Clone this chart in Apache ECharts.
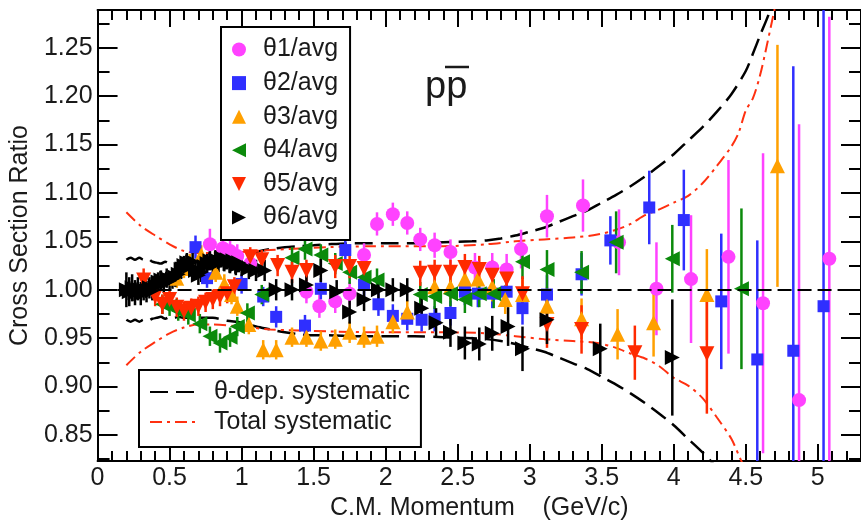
<!DOCTYPE html>
<html>
<head>
<meta charset="utf-8">
<script src="https://cdn.jsdelivr.net/npm/echarts@6/dist/echarts.min.js"></script>
<style>
html, body { margin: 0; padding: 0; background: #fff; }
#chart { width: 861px; height: 526px; }
</style>
</head>
<body>
<div id="chart"></div>
<script>
// ---- axis ticks / labels ----
const xMajorTicks = [0, 0.5, 1, 1.5, 2, 2.5, 3, 3.5, 4, 4.5, 5];
const yMajorTicks = [0.85, 0.90, 0.95, 1.00, 1.05, 1.10, 1.15, 1.20, 1.25];
const xName = 'C.M. Momentum    (GeV/c)';
const yName = 'Cross Section Ratio';

// ---- θ1/avg (magenta circles) ----
const t1X   = [0.78, 0.87, 0.92, 0.97, 1.06, 1.45, 1.54, 1.65, 1.75, 1.85, 1.94, 2.05, 2.15, 2.24, 2.34, 2.45, 2.62, 2.74, 2.84, 2.94, 3.12, 3.37, 3.62, 3.88, 4.12, 4.38, 4.62, 4.87, 5.08];
const t1Y   = [1.047, 1.043, 1.040, 1.035, 1.027, 0.998, 0.983, 0.988, 0.996, 1.036, 1.068, 1.078, 1.069, 1.052, 1.046, 1.039, 1.023, 1.023, 1.021, 1.042, 1.076, 1.087, 1.049, 1.001, 1.011, 1.034, 0.986, 0.886, 1.032];
const t1Err = [0.016, 0.013, 0.012, 0.012, 0.012, 0.012, 0.012, 0.012, 0.012, 0.012, 0.012, 0.012, 0.012, 0.012, 0.013, 0.013, 0.015, 0.015, 0.016, 0.020, 0.022, 0.027, 0.034, 0.048, 0.066, 0.100, 0.155, 0.285, 0.250];

// ---- θ2/avg (blue squares) ----
const t2X   = [0.68, 0.76, 1.00, 1.15, 1.24, 1.44, 1.55, 1.72, 1.85, 1.95, 2.05, 2.15, 2.25, 2.34, 2.45, 2.55, 2.64, 2.74, 2.84, 2.95, 3.12, 3.36, 3.56, 3.83, 4.07, 4.33, 4.58, 4.83, 5.04];
const t2Y   = [1.044, 1.012, 1.006, 0.993, 0.972, 0.963, 1.001, 1.041, 1.005, 0.985, 0.973, 0.970, 0.969, 0.970, 0.976, 0.998, 0.996, 0.996, 0.998, 0.981, 0.995, 1.016, 1.051, 1.085, 1.072, 0.988, 0.928, 0.937, 0.983];
const t2Err = [0.012, 0.010, 0.010, 0.010, 0.011, 0.011, 0.011, 0.012, 0.012, 0.012, 0.012, 0.012, 0.012, 0.013, 0.013, 0.014, 0.014, 0.015, 0.015, 0.017, 0.020, 0.022, 0.025, 0.038, 0.052, 0.070, 0.123, 0.294, 0.400];

// ---- θ3/avg (orange up triangles) ----
const t3X   = [0.55, 0.60, 0.64, 0.72, 0.82, 0.88, 0.93, 0.97, 1.05, 1.15, 1.24, 1.35, 1.45, 1.55, 1.65, 1.75, 1.85, 1.94, 2.05, 2.15, 2.34, 2.45, 2.55, 2.64, 2.74, 2.83, 2.95, 3.12, 3.36, 3.61, 3.86, 4.23, 4.72];
const t3Y   = [1.012, 1.022, 1.027, 1.036, 1.018, 1.006, 0.995, 0.983, 0.964, 0.938, 0.938, 0.951, 0.951, 0.947, 0.949, 0.956, 0.951, 0.952, 0.967, 0.977, 1.003, 1.003, 1.011, 1.011, 1.003, 0.990, 0.995, 0.983, 0.970, 0.954, 0.966, 0.995, 1.128];
const t3Err = [0.010, 0.010, 0.010, 0.010, 0.010, 0.010, 0.010, 0.010, 0.010, 0.010, 0.010, 0.010, 0.010, 0.010, 0.010, 0.011, 0.011, 0.011, 0.012, 0.012, 0.013, 0.013, 0.014, 0.014, 0.015, 0.015, 0.017, 0.020, 0.021, 0.026, 0.035, 0.047, 0.125];

// ---- θ4/avg (green left triangles) ----
const t4X   = [0.45, 0.50, 0.56, 0.63, 0.71, 0.78, 0.85, 0.92, 0.97, 1.04, 1.14, 1.35, 1.44, 1.55, 1.65, 1.75, 1.85, 1.94, 2.24, 2.34, 2.45, 2.55, 2.65, 2.75, 2.95, 3.12, 3.36, 3.60, 3.99, 4.47];
const t4Y   = [0.985, 0.983, 0.978, 0.974, 0.965, 0.952, 0.945, 0.951, 0.962, 0.976, 0.995, 1.033, 1.042, 1.036, 1.027, 1.018, 1.013, 1.010, 0.995, 0.993, 0.996, 0.990, 0.996, 0.996, 1.029, 1.021, 1.018, 1.049, 1.032, 1.001];
const t4Err = [0.010, 0.010, 0.010, 0.010, 0.010, 0.010, 0.010, 0.010, 0.010, 0.010, 0.010, 0.011, 0.011, 0.011, 0.011, 0.012, 0.012, 0.012, 0.013, 0.013, 0.013, 0.014, 0.014, 0.015, 0.018, 0.020, 0.022, 0.032, 0.035, 0.083];

// ---- θ5/avg (red down triangles) ----
const t5X   = [0.32, 0.40, 0.45, 0.50, 0.55, 0.60, 0.65, 0.70, 0.75, 0.80, 0.85, 0.90, 0.95, 1.06, 1.14, 1.25, 1.35, 1.45, 1.65, 1.75, 1.85, 2.24, 2.34, 2.45, 2.55, 2.65, 2.74, 2.84, 2.95, 3.12, 3.36, 3.73, 4.23];
const t5Y   = [1.010, 0.993, 0.985, 0.990, 0.982, 0.978, 0.981, 0.983, 0.987, 0.990, 0.993, 0.996, 1.003, 1.034, 1.031, 1.025, 1.018, 1.020, 1.024, 1.024, 1.022, 1.017, 1.018, 1.018, 1.023, 1.021, 1.015, 1.011, 0.996, 0.964, 0.959, 0.935, 0.934];
const t5Err = [0.012, 0.010, 0.010, 0.010, 0.010, 0.010, 0.010, 0.010, 0.010, 0.010, 0.010, 0.010, 0.010, 0.010, 0.010, 0.011, 0.011, 0.011, 0.012, 0.012, 0.012, 0.013, 0.013, 0.013, 0.014, 0.014, 0.015, 0.015, 0.018, 0.024, 0.025, 0.028, 0.062];

// ---- θ6/avg (black right triangles) ----
const t6X   = [0.20, 0.22, 0.24, 0.26, 0.28, 0.30, 0.32, 0.34, 0.36, 0.38, 0.40, 0.42, 0.44, 0.46, 0.48, 0.50, 0.52, 0.54, 0.56, 0.58, 0.60, 0.62, 0.64, 0.66, 0.68, 0.70, 0.72, 0.74, 0.76, 0.78, 0.80, 0.82, 0.84, 0.86, 0.88, 0.90, 0.92, 0.94, 0.96, 0.98, 1.00,
               1.05, 1.10, 1.16, 1.24, 1.35, 1.45, 1.55, 1.66, 1.75, 1.85, 1.95, 2.05, 2.15, 2.25, 2.35, 2.45, 2.55, 2.65, 2.74, 2.85, 2.95, 3.12, 3.49, 3.99];
const t6Y   = [1.000, 0.998, 1.002, 0.997, 1.001, 0.996, 1.000, 0.998, 1.002, 0.999, 1.004, 1.008, 1.010, 1.007, 1.012, 1.009, 1.011, 1.013, 1.016, 1.021, 1.025, 1.028, 1.024, 1.029, 1.020, 1.015, 1.018, 1.024, 1.027, 1.030, 1.026, 1.031, 1.028, 1.033, 1.029, 1.031, 1.027, 1.030, 1.025, 1.028, 1.024,
               1.022, 1.020, 1.020, 1.000, 1.000, 1.005, 1.020, 0.998, 0.977, 0.990, 1.000, 1.000, 1.000, 0.981, 0.966, 0.956, 0.945, 0.944, 0.955, 0.962, 0.939, 0.969, 0.939, 0.930];
const t6Err = [0.018, 0.015, 0.014, 0.013, 0.012, 0.012, 0.011, 0.011, 0.011, 0.010, 0.010, 0.010, 0.010, 0.010, 0.010, 0.010, 0.010, 0.010, 0.010, 0.010, 0.010, 0.010, 0.010, 0.010, 0.010, 0.010, 0.010, 0.010, 0.010, 0.010, 0.010, 0.010, 0.010, 0.010, 0.010, 0.010, 0.010, 0.010, 0.010, 0.010, 0.010,
               0.011, 0.011, 0.011, 0.011, 0.011, 0.011, 0.012, 0.012, 0.012, 0.012, 0.012, 0.012, 0.012, 0.014, 0.015, 0.015, 0.017, 0.017, 0.018, 0.020, 0.023, 0.025, 0.026, 0.060];

// ---- θ-dependent systematic band (black dashed) ----
const sysUpX = [0.20, 0.23, 0.26, 0.29, 0.32, 0.35, 0.38, 0.41, 0.44, 0.47, 0.50, 0.53, 0.56, 0.60, 0.70, 0.80, 0.90, 1.00, 1.10, 1.20, 1.30, 1.40, 1.50, 1.60, 1.80, 2.00, 2.20, 2.40, 2.60, 2.70, 2.80, 2.90, 3.00, 3.10, 3.20, 3.30, 3.40, 3.50, 3.60, 3.70, 3.80, 3.90, 4.00, 4.10, 4.20, 4.30, 4.40, 4.50, 4.55, 4.60, 4.66, 4.70];
const sysUpY = [1.031, 1.033, 1.031, 1.033, 1.031, 1.032, 1.029, 1.028, 1.027, 1.029, 1.027, 1.028, 1.027, 1.029, 1.029, 1.030, 1.032, 1.035, 1.039, 1.042, 1.044, 1.045, 1.046, 1.047, 1.048, 1.048, 1.048, 1.049, 1.050, 1.051, 1.053, 1.056, 1.060, 1.064, 1.070, 1.076, 1.082, 1.090, 1.098, 1.107, 1.117, 1.128, 1.140, 1.154, 1.168, 1.184, 1.202, 1.226, 1.244, 1.263, 1.285, 1.305];
const sysLoX = [0.20, 0.23, 0.26, 0.29, 0.32, 0.35, 0.38, 0.41, 0.44, 0.47, 0.50, 0.53, 0.56, 0.60, 0.70, 0.80, 0.90, 1.00, 1.10, 1.20, 1.30, 1.40, 1.50, 1.60, 1.80, 2.00, 2.20, 2.40, 2.60, 2.70, 2.80, 2.90, 3.00, 3.10, 3.20, 3.30, 3.40, 3.50, 3.60, 3.70, 3.80, 3.90, 4.00, 4.10, 4.20, 4.30];
const sysLoY = [0.969, 0.967, 0.969, 0.967, 0.969, 0.968, 0.970, 0.971, 0.972, 0.970, 0.972, 0.971, 0.972, 0.971, 0.971, 0.971, 0.968, 0.966, 0.962, 0.959, 0.956, 0.954, 0.953, 0.953, 0.952, 0.952, 0.952, 0.951, 0.950, 0.949, 0.947, 0.944, 0.940, 0.936, 0.930, 0.924, 0.918, 0.910, 0.902, 0.893, 0.883, 0.872, 0.860, 0.846, 0.832, 0.816];

// ---- total systematic band (red dash-dot) ----
const totUpX = [0.20, 0.30, 0.40, 0.50, 0.60, 0.70, 0.80, 1.00, 1.20, 1.60, 2.00, 2.40, 2.70, 2.90, 3.10, 3.30, 3.47, 3.60, 3.70, 3.80, 3.90, 4.00, 4.10, 4.20, 4.30, 4.40, 4.45, 4.50, 4.55, 4.60, 4.65, 4.70];
const totUpY = [1.080, 1.066, 1.056, 1.047, 1.040, 1.038, 1.038, 1.039, 1.041, 1.044, 1.045, 1.045, 1.047, 1.050, 1.052, 1.054, 1.057, 1.062, 1.068, 1.077, 1.083, 1.090, 1.097, 1.110, 1.128, 1.148, 1.162, 1.185, 1.198, 1.222, 1.255, 1.290];
const totLoX = [0.20, 0.30, 0.40, 0.50, 0.60, 0.70, 0.80, 1.00, 1.20, 1.60, 2.00, 2.40, 2.70, 2.90, 3.10, 3.30, 3.47, 3.60, 3.70, 3.80, 3.90, 4.00, 4.10, 4.20, 4.30, 4.40, 4.47, 4.52];
const totLoY = [0.922, 0.936, 0.946, 0.955, 0.961, 0.964, 0.964, 0.962, 0.959, 0.957, 0.956, 0.956, 0.955, 0.952, 0.949, 0.947, 0.945, 0.940, 0.934, 0.929, 0.921, 0.909, 0.901, 0.888, 0.868, 0.846, 0.823, 0.810];

// ---- presentation ----
const FONT = '"Liberation Sans", Arial, Helvetica, sans-serif';
const TEXT = '#1a1a1a';
const sysName = 'θ-dep. systematic';
const totName = 'Total systematic';

// legend glyphs matching the rotated plot markers
const ICON_LEFT  = 'path://M10,0 L0,5 L10,10 Z';
const ICON_DOWN  = 'path://M0,0 L10,0 L5,10 Z';
const ICON_RIGHT = 'path://M0,0 L10,5 L0,10 Z';

const thetaSeries = [
  { name: 'θ1/avg', x: t1X, y: t1Y, err: t1Err, color: '#ff42ff', symbol: 'circle',   size: 14, rotate: 0,   icon: 'circle' },
  { name: 'θ2/avg', x: t2X, y: t2Y, err: t2Err, color: '#2f2fff', symbol: 'rect',     size: 12, rotate: 0,   icon: 'rect' },
  { name: 'θ3/avg', x: t3X, y: t3Y, err: t3Err, color: '#ffa000', symbol: 'triangle', size: 15, rotate: 0,   icon: 'triangle' },
  { name: 'θ4/avg', x: t4X, y: t4Y, err: t4Err, color: '#0b8a0b', symbol: 'triangle', size: 15, rotate: 90,  icon: ICON_LEFT },
  { name: 'θ5/avg', x: t5X, y: t5Y, err: t5Err, color: '#ff2a00', symbol: 'triangle', size: 15, rotate: 180, icon: ICON_DOWN },
  { name: 'θ6/avg', x: t6X, y: t6Y, err: t6Err, color: '#000000', symbol: 'triangle', size: 15, rotate: -90, icon: ICON_RIGHT }
];

const xMinorTicks = [];
for (let i = 1; i <= 52; i++) { if (i % 5 !== 0) xMinorTicks.push(i / 10); }
const yMinorTicks = [];
for (let i = 33; i <= 51; i += 2) { yMinorTicks.push(i * 0.025); }

const X_MIN = 0, X_MAX = 5.3, Y_MIN = 0.823, Y_MAX = 1.289;

function xAxisDef(position, ticks, len, withLabels, withLine) {
  return {
    type: 'value', position: position, min: X_MIN, max: X_MAX,
    axisLine: { show: withLine, onZero: false, lineStyle: { color: '#000', width: 2 } },
    axisTick: { show: true, inside: true, length: len, customValues: ticks, lineStyle: { color: '#000', width: 2 } },
    axisLabel: withLabels ? {
      show: true, customValues: ticks, margin: 5,
      fontFamily: FONT, fontSize: 25, color: TEXT,
      formatter: v => String(Math.round(v * 10) / 10)
    } : { show: false },
    splitLine: { show: false },
    name: withLabels ? xName : '',
    nameLocation: 'middle', nameGap: 33,
    nameTextStyle: { fontFamily: FONT, fontSize: 25, color: TEXT }
  };
}
function yAxisDef(position, ticks, len, withLabels, withLine) {
  return {
    type: 'value', position: position, min: Y_MIN, max: Y_MAX,
    axisLine: { show: withLine, onZero: false, lineStyle: { color: '#000', width: 2 } },
    axisTick: { show: true, inside: true, length: len, customValues: ticks, lineStyle: { color: '#000', width: 2 } },
    axisLabel: withLabels ? {
      show: true, customValues: ticks, margin: 5,
      fontFamily: FONT, fontSize: 25, color: TEXT,
      formatter: v => v.toFixed(2)
    } : { show: false },
    splitLine: { show: false },
    name: withLabels ? yName : '',
    nameLocation: 'middle', nameGap: 56,
    nameTextStyle: { fontFamily: FONT, fontSize: 25, color: TEXT }
  };
}

function errorBars(s) {
  return {
    type: 'custom', name: s.name + ' error', silent: true, clip: true, z: 3,
    data: s.x.map((x, i) => [x, s.y[i], s.err[i]]),
    encode: { x: 0, y: 1 },
    renderItem: function (params, api) {
      const x = api.value(0), y = api.value(1), e = api.value(2);
      const a = api.coord([x, y + e]);
      const b = api.coord([x, y - e]);
      return {
        type: 'line',
        shape: { x1: a[0], y1: a[1], x2: b[0], y2: b[1] },
        style: { stroke: s.color, lineWidth: 2.5 }
      };
    }
  };
}
function markers(s) {
  return {
    type: 'scatter', name: s.name, silent: true, z: 4,
    data: s.x.map((x, i) => [x, s.y[i]]),
    symbol: s.symbol, symbolSize: s.size, symbolRotate: s.rotate,
    itemStyle: { color: s.color, opacity: 1 }
  };
}
function band(name, xs, ys, color, dash, width, extra) {
  return Object.assign({
    type: 'line', name: name, silent: true, z: 2,
    data: xs.map((x, i) => [x, ys[i]]),
    symbol: 'none', showSymbol: false, smooth: 0.3,
    lineStyle: { color: color, width: width, type: dash },
    itemStyle: { color: color }
  }, extra || {});
}

const series = [
  band(sysName, sysUpX, sysUpY, '#000', [18, 8], 2.5, {
    markLine: {
      silent: true, symbol: 'none', label: { show: false },
      lineStyle: { color: '#000', width: 2, type: [14, 6] },
      data: [{ yAxis: 1 }]
    }
  }),
  band(sysName, sysLoX, sysLoY, '#000', [18, 8], 2.5),
  band(totName, totUpX, totUpY, '#ff3010', [12, 5, 3, 5], 2),
  band(totName, totLoX, totLoY, '#ff3010', [12, 5, 3, 5], 2)
];
thetaSeries.forEach(s => series.push(errorBars(s)));
thetaSeries.forEach(s => series.push(markers(s)));

const chart = echarts.init(document.getElementById('chart'), null, { renderer: 'canvas' });
chart.setOption({
  animation: false,
  backgroundColor: '#fff',
  textStyle: { fontFamily: FONT },
  grid: { left: 93, top: 10, width: 772, height: 456, containLabel: false },
  xAxis: [
    xAxisDef('bottom', xMajorTicks, 17, true, true),
    xAxisDef('bottom', xMinorTicks, 10, false, false),
    xAxisDef('top', xMajorTicks, 17, false, true),
    xAxisDef('top', xMinorTicks, 10, false, false)
  ],
  yAxis: [
    yAxisDef('left', yMajorTicks, 20, true, true),
    yAxisDef('left', yMinorTicks, 12, false, false),
    yAxisDef('right', yMajorTicks, 20, false, true),
    yAxisDef('right', yMinorTicks, 12, false, false)
  ],
  legend: [
    {
      orient: 'vertical', left: 221, top: 27,
      padding: [10, 12, 10, 11], itemGap: 8.6,
      itemWidth: 14, itemHeight: 14, symbolKeepAspect: true,
      borderColor: '#000', borderWidth: 2, backgroundColor: '#fff',
      selectedMode: false,
      data: thetaSeries.map(s => ({ name: s.name, icon: s.icon })),
      textStyle: { fontFamily: FONT, fontSize: 25, lineHeight: 25, color: TEXT, padding: [0, 0, 0, 12] }
    },
    {
      orient: 'vertical', left: 139, top: 370,
      padding: [9.5, 11, 12.5, 10], itemGap: 5,
      itemWidth: 48, itemHeight: 14,
      itemStyle: { opacity: 0 },
      borderColor: '#000', borderWidth: 2, backgroundColor: '#fff',
      selectedMode: false,
      data: [sysName, totName],
      textStyle: { fontFamily: FONT, fontSize: 25, lineHeight: 25, color: TEXT, padding: [0, 0, 0, 11] }
    }
  ],
  graphic: [
    { type: 'text', x: 425, y: 88, silent: true,
      style: { text: 'pp', fill: TEXT, font: '38px ' + FONT, verticalAlign: 'middle', align: 'left' } },
    { type: 'line', silent: true,
      shape: { x1: 445, y1: 67, x2: 469, y2: 67 },
      style: { stroke: TEXT, lineWidth: 2.5 } }
  ],
  series: series
});
</script>
</body>
</html>
